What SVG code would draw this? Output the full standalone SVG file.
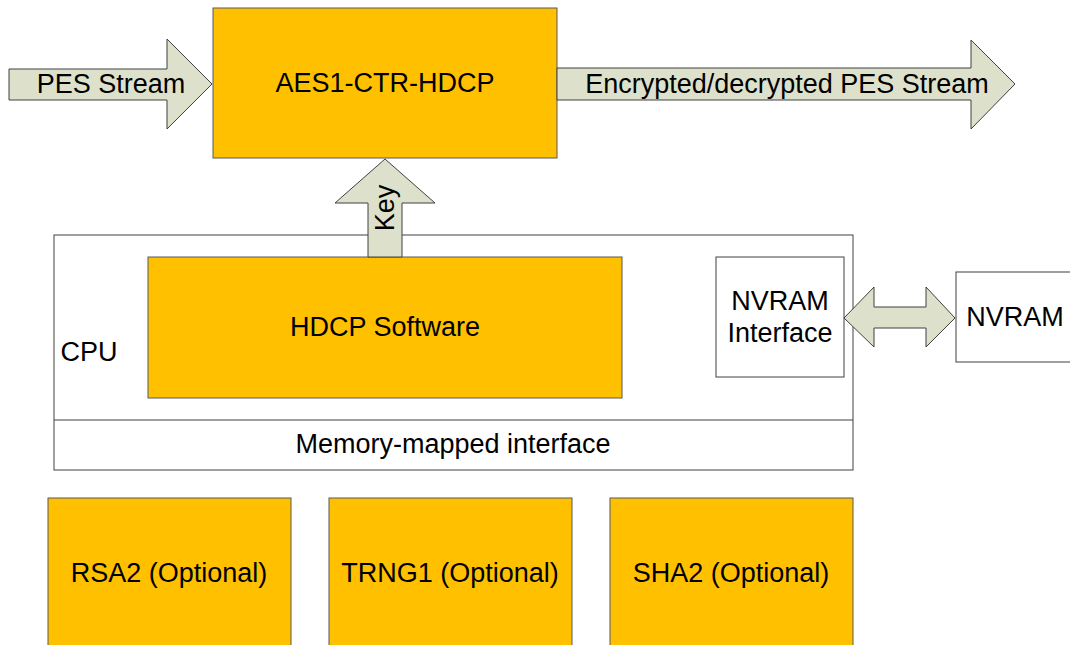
<svg xmlns="http://www.w3.org/2000/svg" width="1070" height="645" viewBox="0 0 1070 645">
<style>
.t{font-family:"Liberation Sans",Arial,sans-serif;font-size:27px;fill:#000;text-anchor:middle;dominant-baseline:central}
.o{fill:#FFC000;stroke:#595959;stroke-width:1}
.w{fill:#fff;stroke:#404040;stroke-width:1}
.a{fill:#DDE0CB;stroke:#404040;stroke-width:1}
</style>
<rect width="1070" height="645" fill="#fff"/>
<g id="cpu">
<rect class="w" x="54" y="235" width="799" height="235"/>
<line x1="54" y1="420" x2="853" y2="420" stroke="#404040" stroke-width="1"/>
<text class="t" x="89" y="352">CPU</text>
<text class="t" x="453" y="444">Memory-mapped interface</text>
</g>
<g id="aes">
<rect class="o" x="213" y="8" width="344" height="150"/>
<text class="t" x="385" y="83">AES1-CTR-HDCP</text>
</g>
<g id="hdcp">
<rect class="o" x="148" y="257" width="474" height="141"/>
<text class="t" x="385" y="327">HDCP Software</text>
</g>
<g id="nvramif">
<rect class="w" x="716" y="257" width="128" height="120"/>
<text class="t" x="780" y="301">NVRAM</text>
<text class="t" x="780" y="333">Interface</text>
</g>
<g id="nvram">
<rect class="w" x="956" y="272" width="130" height="90"/>
<text class="t" x="1015" y="317">NVRAM</text>
</g>
<g id="rsa2">
<rect class="o" x="48" y="498" width="243" height="160"/>
<text class="t" x="169" y="573">RSA2 (Optional)</text>
</g>
<g id="trng1">
<rect class="o" x="329" y="498" width="243" height="160"/>
<text class="t" x="450" y="573">TRNG1 (Optional)</text>
</g>
<g id="sha2">
<rect class="o" x="610" y="498" width="243" height="160"/>
<text class="t" x="731" y="573">SHA2 (Optional)</text>
</g>
<g id="connectors">
<polygon class="a" points="9,69 167,69 167,39 212,84 167,129 167,100 9,100"/>
<text class="t" x="111" y="84">PES Stream</text>
<polygon class="a" points="557,68 971,68 971,40 1015,84 971,129 971,100 557,100"/>
<text class="t" x="787" y="84">Encrypted/decrypted PES Stream</text>
<polygon class="a" points="368,257 368,203 335,203 385,159 435,203 402,203 402,257"/>
<text class="t" transform="translate(385,208) rotate(-90)">Key</text>
<polygon class="a" points="844,318 874,287 874,307 926,307 926,287 955,318 926,347 926,328 874,328 874,347"/>
</g>
</svg>
